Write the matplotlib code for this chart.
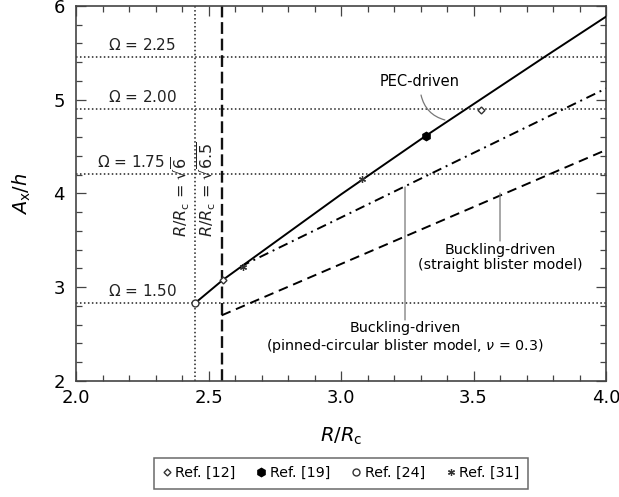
import numpy as np
import matplotlib
matplotlib.use("Agg")
import matplotlib.pyplot as plt

plt.rcParams['font.family'] = ['DejaVu Sans']
plt.rcParams['mathtext.fontset'] = 'dejavusans'

# reference levels
omega_labels = [r'$\Omega$ = 2.25', r'$\Omega$ = 2.00', r'$\Omega$ = 1.75', r'$\Omega$ = 1.50']
omega_levels = [5.46, 4.90, 4.21, 2.83]
r_sqrt6 = np.sqrt(6.0)
r_sqrt65 = np.sqrt(6.5)

# model curves
pec_r = [2.449, 2.555, 3.0, 3.321, 3.77, 4.0]
pec_a = [2.83, 3.08, 3.99, 4.617, 5.46, 5.886]
pinned_r = [2.62, 3.135, 3.6, 4.0]
pinned_a = [3.22, 3.93, 4.57, 5.12]
straight_r = [2.5495, 4.0]
straight_a = [2.70, 4.464]

# literature points
ref12_r, ref12_a = [3.528, 2.555], [4.89, 3.08]
ref19_r, ref19_a = [3.321], [4.617]
ref24_r, ref24_a = [2.449], [2.83]
ref31_r, ref31_a = [3.078, 2.63], [4.155, 3.22]

fig = plt.figure(figsize=(6.19, 4.97), dpi=100)
ax = fig.add_axes([0.1228, 0.2334, 0.8562, 0.7546])

for lev in omega_levels:
    ax.axhline(lev, color='#222222', ls=(0, (1, 1.6)), lw=1.1, zorder=1)
ax.axvline(r_sqrt6, color='#222222', ls=(0, (1, 1.6)), lw=1.1, zorder=1)
ax.axvline(r_sqrt65, color='#111111', ls=(0, (5, 2)), lw=1.7, zorder=1)

ax.plot(pec_r, pec_a, color='black', lw=1.4, zorder=3)
ax.plot(pinned_r, pinned_a, color='black', lw=1.4, ls=(0, (5, 2.5, 1, 2.5)), zorder=3)
ax.plot(straight_r, straight_a, color='black', lw=1.4, ls=(0, (5, 3)), zorder=3)

ax.plot(ref12_r, ref12_a, ls='none', marker='D', ms=3.5, mfc='white', mec='#333333', mew=1, zorder=4, label='Ref. [12]')
ax.plot(ref19_r, ref19_a, ls='none', marker='h', ms=6, mfc='black', mec='black', zorder=4, label='Ref. [19]')
ax.plot(ref24_r, ref24_a, ls='none', marker='o', ms=5, mfc='white', mec='#333333', mew=1, zorder=4, label='Ref. [24]')
ax.plot(ref31_r, ref31_a, ls='none', marker=(6, 2, 0), ms=5, color='#333333', mew=0.9, zorder=4, label='Ref. [31]')

# labels on the reference lines
omega_x = [2.25, 2.25, 2.205, 2.25]
for lab, lev, xx in zip(omega_labels, omega_levels, omega_x):
    ax.text(xx, lev + 0.04, lab, ha='center', va='bottom', fontsize=11, color='#222222')
ax.text(r_sqrt6 - 0.012, 3.54, r'$R/R_\mathrm{c}$ = √$\overline{6}$', rotation=90,
        ha='right', va='bottom', fontsize=11.5, color='#222222')
ax.text(r_sqrt65 - 0.012, 3.54, r'$R/R_\mathrm{c}$ = √$\overline{6.5}$', rotation=90,
        ha='right', va='bottom', fontsize=11.5, color='#222222')

# callouts
ax.text(3.298, 5.19, 'PEC-driven', fontsize=10.5, ha='center', va='center')
ax.annotate('', xy=(3.392, 4.784), xytext=(3.302, 5.05),
            arrowprops=dict(arrowstyle='-', color='#777777', lw=0.9,
                            shrinkA=0, shrinkB=0, connectionstyle='arc3,rad=0.3'))
ax.annotate('', xy=(3.60, 4.005), xytext=(3.60, 3.493),
            arrowprops=dict(arrowstyle='-', color='#777777', lw=0.9, shrinkA=0, shrinkB=0))
ax.text(3.60, 3.317, 'Buckling-driven\n(straight blister model)', fontsize=10.3,
        ha='center', va='center', linespacing=1.1)
ax.annotate('', xy=(3.2415, 4.069), xytext=(3.2415, 2.651),
            arrowprops=dict(arrowstyle='-', color='#777777', lw=0.9, shrinkA=0, shrinkB=0))
ax.text(3.2415, 2.46, 'Buckling-driven\n(pinned-circular blister model, $\\nu$ = 0.3)', fontsize=10.3,
        ha='center', va='center', linespacing=1.1)

ax.set_xlim(2.0, 4.0)
ax.set_ylim(2, 6)
ax.set_xticks([2.0, 2.5, 3.0, 3.5, 4.0])
ax.set_xticklabels(['2.0', '2.5', '3.0', '3.5', '4.0'])
ax.set_yticks([2, 3, 4, 5, 6])
ax.set_xticks(np.arange(2.0, 4.01, 0.1), minor=True)
ax.set_yticks(np.arange(2.0, 6.01, 0.2), minor=True)
ax.tick_params(which='both', direction='in', top=True, right=True, labelsize=13, color='#444444')
ax.tick_params(which='major', length=7, width=0.9)
ax.tick_params(which='minor', length=4, width=0.9)
ax.tick_params(axis='x', which='major', pad=5.5)
ax.tick_params(axis='y', which='major', pad=8)
for s in ax.spines.values():
    s.set_color('#444444')
    s.set_linewidth(1.2)

ax.set_xlabel(r'$R/R_\mathrm{c}$', fontsize=14, labelpad=14)
ax.set_ylabel(r'$A_\mathrm{x}/h$', fontsize=14, labelpad=15)

leg = fig.legend(loc='center', bbox_to_anchor=(0.551, 0.048), ncol=4, fontsize=10.3,
                 frameon=True, fancybox=False, edgecolor='#444444', handlelength=0.6,
                 handletextpad=0.3, columnspacing=1.5, borderpad=0.6)
leg.get_frame().set_linewidth(1.1)

fig.savefig('out.png', dpi=100)
